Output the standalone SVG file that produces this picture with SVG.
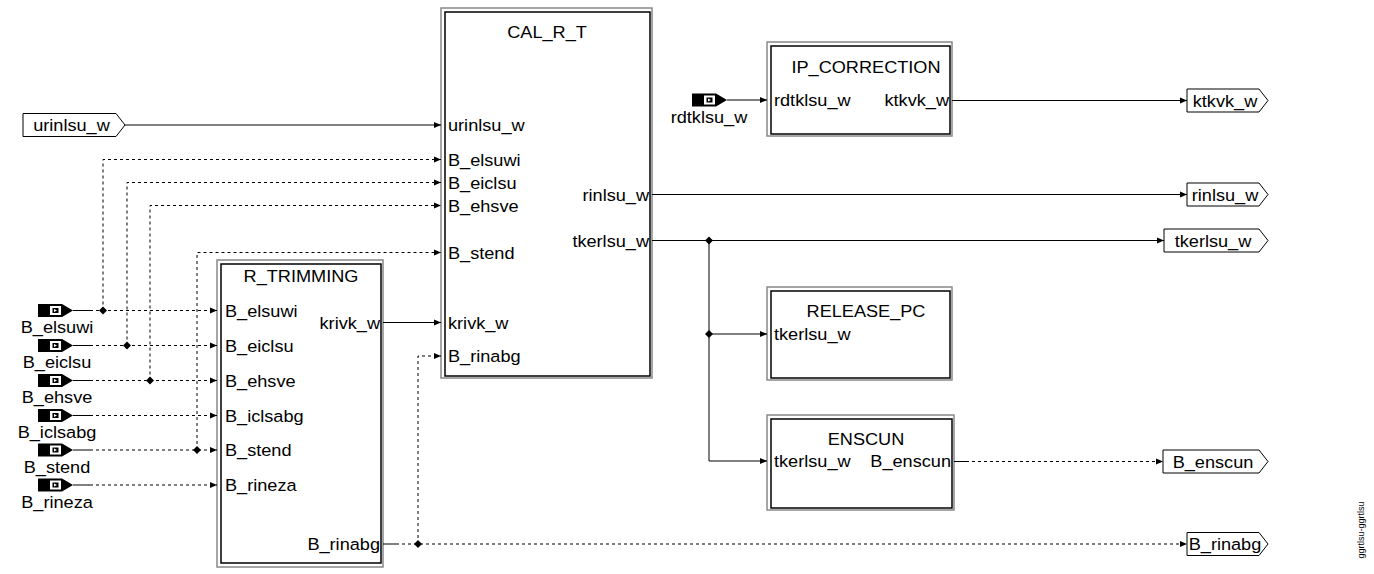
<svg xmlns="http://www.w3.org/2000/svg" width="1374" height="574" viewBox="0 0 1374 574">
<style>
.t{font-family:"Liberation Sans",Arial,sans-serif;font-size:16.5px;fill:#000}
.m{text-anchor:middle}
.e{text-anchor:end}
.bo{fill:none;stroke:#888;stroke-width:1.5}
.bi{fill:none;stroke:#000;stroke-width:1.5}
.sig{fill:#fff;stroke:#000;stroke-width:1}
.c{fill:none;stroke:#000;stroke-width:1}
.d{fill:none;stroke:#000;stroke-width:1;stroke-dasharray:3,3}
.a{marker-end:url(#ah)}
.small{font-family:"Liberation Sans",Arial,sans-serif;font-size:9px;fill:#000}
</style>
<defs>
<marker id="ah" markerWidth="8" markerHeight="8" refX="7" refY="4" orient="auto" markerUnits="userSpaceOnUse">
<path d="M0,1 L7,4 L0,7 Z" fill="#000"/>
</marker>
<g id="icon">
<path d="M0,-6.5 H24 L35,0 L24,6.5 H0 Z" fill="#000"/>
<rect x="12" y="-4.5" width="11" height="9" fill="#fff"/>
<rect x="14.5" y="-2.5" width="6" height="5" fill="#000"/>
<path d="M16,-1.5 L19,0 L16,1.5 Z" fill="#fff"/>
</g>
<path id="dia" d="M0,-4 L4,0 L0,4 L-4,0 Z" fill="#000"/>
</defs>
<rect width="1374" height="574" fill="#fff"/>

<!-- Blocks -->
<g id="R_TRIMMING">
<rect class="bo" x="217" y="260" width="166" height="307"/>
<rect class="bi" x="221" y="264" width="160" height="299"/>
<text class="t m" transform="translate(301 282) scale(1.1 1)">R_TRIMMING</text>
<text class="t" transform="translate(225 316.5) scale(1.1 1)">B_elsuwi</text>
<text class="t" transform="translate(225 351.5) scale(1.1 1)">B_eiclsu</text>
<text class="t" transform="translate(225 386.5) scale(1.1 1)">B_ehsve</text>
<text class="t" transform="translate(225 421.5) scale(1.1 1)">B_iclsabg</text>
<text class="t" transform="translate(225 456) scale(1.1 1)">B_stend</text>
<text class="t" transform="translate(225 491) scale(1.1 1)">B_rineza</text>
<text class="t e" transform="translate(380 328.5) scale(1.1 1)">krivk_w</text>
<text class="t e" transform="translate(380 550) scale(1.1 1)">B_rinabg</text>
</g>

<g id="CAL_R_T">
<rect class="bo" x="441" y="8" width="211" height="370"/>
<rect class="bi" x="445" y="12" width="205" height="364"/>
<text class="t m" transform="translate(547 38) scale(1.1 1)">CAL_R_T</text>
<text class="t" transform="translate(448 131) scale(1.1 1)">urinlsu_w</text>
<text class="t" transform="translate(448 165.5) scale(1.1 1)">B_elsuwi</text>
<text class="t" transform="translate(448 188.5) scale(1.1 1)">B_eiclsu</text>
<text class="t" transform="translate(448 211.5) scale(1.1 1)">B_ehsve</text>
<text class="t" transform="translate(448 258.5) scale(1.1 1)">B_stend</text>
<text class="t" transform="translate(448 328.5) scale(1.1 1)">krivk_w</text>
<text class="t" transform="translate(448 362) scale(1.1 1)">B_rinabg</text>
<text class="t e" transform="translate(649 200.5) scale(1.1 1)">rinlsu_w</text>
<text class="t e" transform="translate(649 246.5) scale(1.1 1)">tkerlsu_w</text>
</g>

<g id="IP_CORRECTION">
<rect class="bo" x="767" y="42" width="185" height="94"/>
<rect class="bi" x="771" y="46" width="179" height="88"/>
<text class="t m" transform="translate(866 73) scale(1.1 1)">IP_CORRECTION</text>
<text class="t" transform="translate(774 106) scale(1.1 1)">rdtklsu_w</text>
<text class="t e" transform="translate(949 106) scale(1.1 1)">ktkvk_w</text>
</g>

<g id="RELEASE_PC">
<rect class="bo" x="767" y="287" width="185" height="93"/>
<rect class="bi" x="771" y="291" width="179" height="87"/>
<text class="t m" transform="translate(866 317) scale(1.1 1)">RELEASE_PC</text>
<text class="t" transform="translate(774 340) scale(1.1 1)">tkerlsu_w</text>
</g>

<g id="ENSCUN">
<rect class="bo" x="767" y="415" width="187" height="95"/>
<rect class="bi" x="771" y="419" width="181" height="89"/>
<text class="t m" transform="translate(866 445) scale(1.1 1)">ENSCUN</text>
<text class="t" transform="translate(774 467) scale(1.1 1)">tkerlsu_w</text>
<text class="t e" transform="translate(951 467) scale(1.1 1)">B_enscun</text>
</g>

<!-- Inputs -->
<g id="in_urinlsu_w">
<path class="sig" d="M23,113.5 H116 L125,125 L116,136.5 H23 Z"/>
<text class="t m" transform="translate(71.5 131) scale(1.1 1)">urinlsu_w</text>
</g>
<g id="in_B_elsuwi"><use href="#icon" x="38" y="310.5"/><text class="t m" transform="translate(57 333) scale(1.1 1)">B_elsuwi</text></g>
<g id="in_B_eiclsu"><use href="#icon" x="38" y="345.5"/><text class="t m" transform="translate(57 368) scale(1.1 1)">B_eiclsu</text></g>
<g id="in_B_ehsve"><use href="#icon" x="38" y="380.5"/><text class="t m" transform="translate(57 403) scale(1.1 1)">B_ehsve</text></g>
<g id="in_B_iclsabg"><use href="#icon" x="38" y="415.5"/><text class="t m" transform="translate(57 438) scale(1.1 1)">B_iclsabg</text></g>
<g id="in_B_stend"><use href="#icon" x="38" y="450"/><text class="t m" transform="translate(57 472.5) scale(1.1 1)">B_stend</text></g>
<g id="in_B_rineza"><use href="#icon" x="38" y="485"/><text class="t m" transform="translate(57 507.5) scale(1.1 1)">B_rineza</text></g>
<g id="in_rdtklsu_w"><use href="#icon" x="692" y="100"/><text class="t m" transform="translate(709 123) scale(1.1 1)">rdtklsu_w</text></g>

<!-- Outputs -->
<g id="out_ktkvk_w">
<path class="sig" d="M1187,89 H1259 L1268,100.5 L1259,112 H1187 Z"/>
<text class="t m" transform="translate(1225 106.5) scale(1.1 1)">ktkvk_w</text>
</g>
<g id="out_rinlsu_w">
<path class="sig" d="M1187,183 H1259 L1268,194.5 L1259,206 H1187 Z"/>
<text class="t m" transform="translate(1225 200.5) scale(1.1 1)">rinlsu_w</text>
</g>
<g id="out_tkerlsu_w">
<path class="sig" d="M1164,229 H1259 L1268,240.5 L1259,252 H1164 Z"/>
<text class="t m" transform="translate(1213 246.5) scale(1.1 1)">tkerlsu_w</text>
</g>
<g id="out_B_enscun">
<path class="sig" d="M1163,450 H1259 L1268,461.5 L1259,473 H1163 Z"/>
<text class="t m" transform="translate(1213 467.5) scale(1.1 1)">B_enscun</text>
</g>
<g id="out_B_rinabg">
<path class="sig" d="M1187,532.5 H1259 L1268,544 L1259,555.5 H1187 Z"/>
<text class="t m" transform="translate(1225 550) scale(1.1 1)">B_rinabg</text>
</g>

<!-- Connectors -->
<g id="connectors">
<path class="c a" d="M125,125 H441"/>
<!-- B_elsuwi -->
<path class="c" d="M73,310.5 H90"/>
<path class="d a" d="M90,310.5 H217"/>
<path class="d a" d="M103,310.5 V159.5 H441"/>
<use href="#dia" x="103" y="310.5"/>
<!-- B_eiclsu -->
<path class="c" d="M73,345.5 H90"/>
<path class="d a" d="M90,345.5 H217"/>
<path class="d a" d="M127,345.5 V182.5 H441"/>
<use href="#dia" x="127" y="345.5"/>
<!-- B_ehsve -->
<path class="c" d="M73,380.5 H90"/>
<path class="d a" d="M90,380.5 H217"/>
<path class="d a" d="M150,380.5 V205.5 H441"/>
<use href="#dia" x="150" y="380.5"/>
<!-- B_iclsabg -->
<path class="c" d="M73,415.5 H90"/>
<path class="d a" d="M90,415.5 H217"/>
<!-- B_stend -->
<path class="c" d="M73,450 H90"/>
<path class="d a" d="M90,450 H217"/>
<path class="d a" d="M197,450 V252.5 H441"/>
<use href="#dia" x="197" y="450"/>
<!-- B_rineza -->
<path class="c" d="M73,485 H90"/>
<path class="d a" d="M90,485 H217"/>
<!-- krivk_w -->
<path class="c a" d="M383,322.5 H441"/>
<!-- B_rinabg -->
<path class="c" d="M383,544 H396"/>
<path class="d a" d="M396,544 H1187"/>
<path class="d a" d="M418,544 V356 H441"/>
<use href="#dia" x="418" y="544"/>
<!-- rinlsu_w -->
<path class="c a" d="M652,194.5 H1187"/>
<!-- tkerlsu_w -->
<path class="c a" d="M652,240.5 H1164"/>
<path class="c a" d="M709,240.5 V461 H767"/>
<path class="c a" d="M709,334 H767"/>
<use href="#dia" x="709" y="240.5"/>
<use href="#dia" x="709" y="334"/>
<!-- rdtklsu_w -->
<path class="c a" d="M727,100 H767"/>
<!-- ktkvk_w -->
<path class="c a" d="M952,100.5 H1187"/>
<!-- B_enscun -->
<path class="c" d="M954,461.5 H966"/>
<path class="d a" d="M966,461.5 H1163"/>
</g>

<text class="small m" transform="translate(1364 530) rotate(-90)">ggrtlsu-ggrtlsu</text>
</svg>
